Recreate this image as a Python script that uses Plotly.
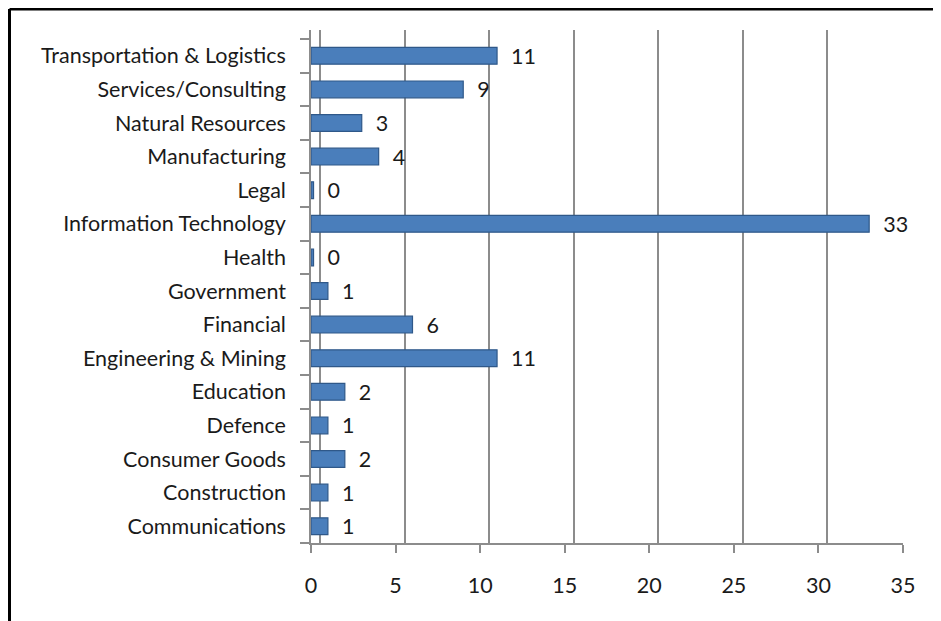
import plotly.graph_objects as go

categories = ["Communications", "Construction", "Consumer Goods", "Defence", "Education",
              "Engineering & Mining", "Financial", "Government", "Health",
              "Information Technology", "Legal", "Manufacturing", "Natural Resources",
              "Services/Consulting", "Transportation & Logistics"]
values = [1, 1, 2, 1, 2, 11, 6, 1, 0, 33, 0, 4, 3, 9, 11]
x_ticks = [0, 5, 10, 15, 20, 25, 30, 35]

# page has an 8px body margin; figure coordinates are offset by it
OFF = 8
W, H = 941 - OFF, 621 - OFF
L = 311 - OFF
R = W - (903 - OFF)
T = 30 - OFF
B = H - (543 - OFF)
pw, ph = W - L - R, H - T - B
FONT = "Lato"
FS = 21.5
row = 33.6
y_top = -0.5 + ph / row

fig = go.Figure()
# invisible trace to hold back-wall gridline axis
fig.add_trace(go.Scatter(x=[0], y=[categories[0]], xaxis="x2", mode="lines",
                         line=dict(width=0), hoverinfo="skip", showlegend=False))
fig.add_trace(go.Bar(
    y=categories, x=[v if v > 0 else 0.15 for v in values], orientation="h",
    marker=dict(color="#4a7ebb", line=dict(color="#2f5889", width=1.2)),
    width=0.5,
    text=[str(v) for v in values], texttemplate="  %{text}",
    textposition="outside", cliponaxis=False, constraintext="none",
    textfont=dict(family=FONT, size=FS, color="#1a1a1a"),
    showlegend=False,
))

shift = 9 / (pw / 35)
fig.update_layout(
    width=W, height=H,
    margin=dict(l=L, r=R, t=T, b=B),
    paper_bgcolor="white", plot_bgcolor="white",
    font=dict(family=FONT, size=FS, color="#1a1a1a"),
    xaxis=dict(range=[0, 35], tickvals=x_ticks, showgrid=False, zeroline=False,
               showline=True, linecolor="#8c8c8c", linewidth=1.5, automargin=False,
               ticks="outside", ticklen=8, tickcolor="#8c8c8c", tickwidth=1.5,
               ticklabelstandoff=14, tickfont=dict(family=FONT, size=FS, color="#1a1a1a")),
    xaxis2=dict(range=[-shift, 35 - shift], overlaying="x", tickvals=x_ticks,
                showticklabels=False, showgrid=True, gridcolor="#8c8c8c", gridwidth=1.6,
                zeroline=False, showline=False),
    yaxis=dict(categoryorder="array", categoryarray=categories, showgrid=False,
               range=[-0.5, y_top], automargin=False,
               showline=True, linecolor="#8c8c8c", linewidth=1.5,
               ticks="outside", tickson="boundaries", ticklen=9, tickcolor="#8c8c8c",
               tickwidth=1.5, ticklabelstandoff=19,
               tickfont=dict(family=FONT, size=FS, color="#1a1a1a")),
)

# chart frame (top and left black border)
px0 = (1.5 - L) / pw
py0 = 1 + (T - 1) / ph
fig.add_shape(type="line", xref="paper", yref="paper", x0=px0, x1=(W - L) / pw + 0.02,
              y0=py0, y1=py0, line=dict(color="black", width=3))
fig.add_shape(type="line", xref="paper", yref="paper", x0=px0, x1=px0,
              y0=py0, y1=-(B + 10) / ph, line=dict(color="black", width=3))

fig.write_html("out.html")
